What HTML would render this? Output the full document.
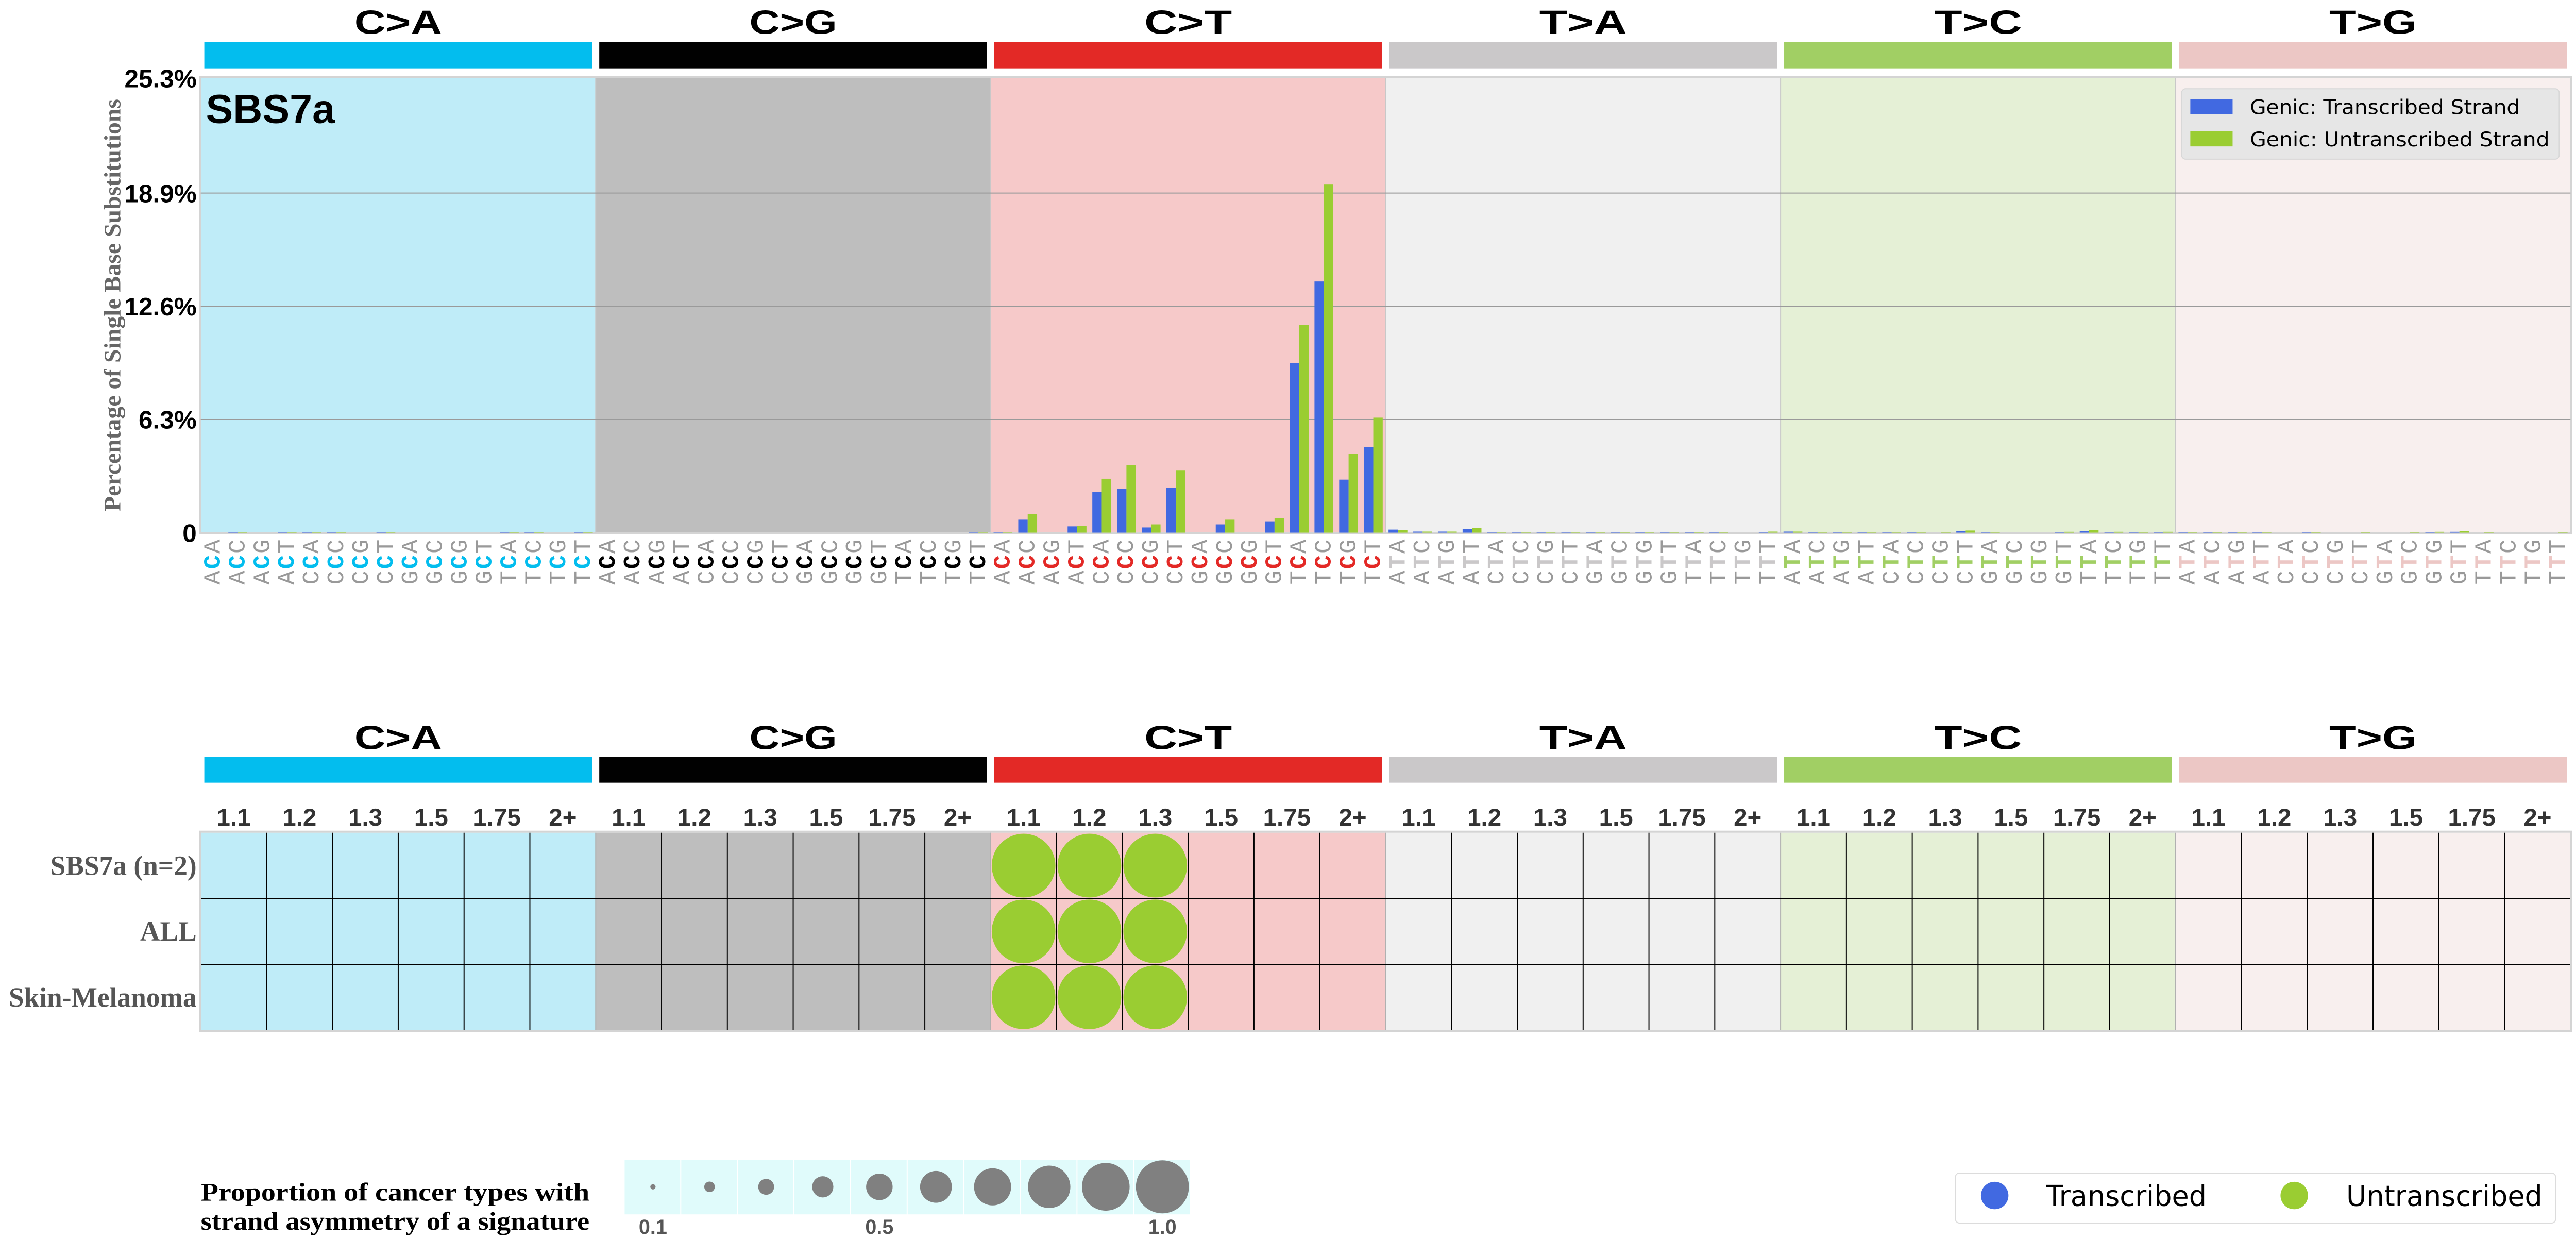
<!DOCTYPE html>
<html><head><meta charset="utf-8"><style>
html,body{margin:0;padding:0;background:#fff;overflow:hidden;width:100%;height:100%}
svg{display:block;width:100vw;height:100vh}
</style></head><body>
<svg xmlns="http://www.w3.org/2000/svg" viewBox="0 0 5056 2435" preserveAspectRatio="none">
<g id="chart" transform="scale(1,0.99)"></g>
</svg>
<script>
const mutTypes = ["C>A","C>G","C>T","T>A","T>C","T>G"];
const contextsC = ["ACA","ACC","ACG","ACT","CCA","CCC","CCG","CCT","GCA","GCC","GCG","GCT","TCA","TCC","TCG","TCT"];
const contextsT = ["ATA","ATC","ATG","ATT","CTA","CTC","CTG","CTT","GTA","GTC","GTG","GTT","TTA","TTC","TTG","TTT"];
const yTicks = [0, 6.3, 12.6, 18.9, 25.3];
const yTickLabels = ["0","6.3%","12.6%","18.9%","25.3%"];
const transcribed = [
 0,0.03,0,0.03,0.03,0.03,0,0.03,0,0,0,0,0.03,0.03,0,0.03,
 0,0,0,0,0,0,0,0,0,0,0,0,0,0,0,0.03,
 0.02,0.75,0,0.35,2.28,2.45,0.29,2.5,0,0.46,0,0.63,9.43,13.98,2.95,4.75,
 0.17,0.06,0.06,0.2,0.02,0.02,0.02,0.02,0.02,0.02,0.02,0.02,0.02,0.02,0,0.02,
 0.06,0.02,0.02,0.02,0.02,0.02,0,0.09,0.02,0,0,0.02,0.09,0.02,0.02,0.02,
 0.02,0.02,0.02,0.02,0,0.02,0,0,0,0,0.02,0.05,0,0,0,0
];
const untranscribed = [
 0,0.03,0,0.03,0.03,0.03,0,0.03,0,0,0,0,0.03,0.03,0,0.03,
 0,0,0,0,0,0,0,0,0,0,0,0,0,0,0,0.03,
 0.02,1.03,0,0.38,3.0,3.75,0.46,3.48,0,0.75,0,0.8,11.55,19.4,4.38,6.4,
 0.14,0.06,0.06,0.26,0.02,0.02,0.02,0.02,0.02,0.02,0.02,0.02,0.02,0.02,0,0.06,
 0.06,0.02,0.02,0.02,0.02,0.02,0.02,0.12,0.02,0,0,0.05,0.14,0.05,0.02,0.05,
 0.02,0.02,0.02,0.02,0,0.02,0,0.02,0,0.02,0.05,0.09,0.02,0,0,0.02
];
const foldLabels = ["1.1","1.2","1.3","1.5","1.75","2+"];
const rowLabels = ["SBS7a (n=2)","ALL","Skin-Melanoma"];
const circleRow = [0,0,0,1,1,1,2,2,2];
const circleCol = [12,13,14,12,13,14,12,13,14];
const circleVal = [1,1,1,1,1,1,1,1,1];
const circleStrand = ["U","U","U","U","U","U","U","U","U"];
const scaleVals = [0.1,0.2,0.3,0.4,0.5,0.6,0.7,0.8,0.9,1.0];
const scaleLabels = {0:"0.1",4:"0.5",9:"1.0"};

const NS="http://www.w3.org/2000/svg";
const svg=document.getElementById('chart');
function mk(tag,attrs,parent,text){const e=document.createElementNS(NS,tag);for(const k in attrs)e.setAttribute(k,attrs[k]);if(text!==undefined)e.textContent=text;(parent||svg).appendChild(e);return e;}
const barCols=["#03bdee","#010101","#e32926","#cac8c9","#a1cf64","#ecc7c5"];
const bgCols=["#bfecf8","#bebebe","#f6c9c9","#f0f0f0","#e5f0d6","#f8efee"];
const midCols=["#03bdee","#000000","#e32926","#cac8c9","#a1cf64","#ecc7c5"];
const L=394, PW=775.2, SLOT=PW/16, TOP=153, BASE=1044, YMAX=25.3, BW=18.5;
const xPanel=p=>L+p*PW;
const y=v=>BASE-(v/YMAX)*(BASE-TOP);
const F='"Liberation Sans", Arial, sans-serif';
const FS='"Liberation Serif", "Times New Roman", serif';
const FD='"DejaVu Sans", sans-serif';

for(let p=0;p<6;p++){
  const t=mk('text',{x:xPanel(p)+PW/2,y:66,'text-anchor':'middle','font-family':F,'font-weight':'bold','font-size':66,fill:'#000',textLength:172,lengthAdjust:'spacingAndGlyphs'},svg,mutTypes[p]);
  
  
  const r=mk('rect',{x:xPanel(p)+7,y:82,width:PW-14,height:52,fill:barCols[p]});
  
  
  const bg=mk('rect',{x:xPanel(p),y:TOP,width:PW,height:BASE-TOP,fill:bgCols[p]});
  
  
}
const frame=mk('rect',{x:L-1,y:TOP-2,width:PW*6+2,height:BASE-TOP+3,fill:'none',stroke:'#d4d4d4','stroke-width':4});


for(let p=1;p<6;p++){mk('line',{x1:xPanel(p),x2:xPanel(p),y1:TOP,y2:BASE,stroke:'#c8c8c8','stroke-width':2});}
yTicks.forEach((v,i)=>{
  if(i>0&&i<yTicks.length-1){const g=mk('line',{x1:L,x2:L+PW*6,y1:y(v),y2:y(v),stroke:'#9a9a9a','stroke-width':2});
  
  }
  const t=mk('text',{x:386,y:y(v)+18,'text-anchor':'end','font-family':F,'font-weight':'bold','font-size':50,fill:'#000'},svg,yTickLabels[i]);
  
  
});
const yt=mk('text',{x:0,y:0,transform:'translate(236,598) rotate(-90)','text-anchor':'middle','font-family':FS,'font-weight':'bold','font-size':46,fill:'#666',textLength:808,lengthAdjust:'spacingAndGlyphs'},svg,'Percentage of Single Base Substitutions');


const sb=mk('text',{x:404,y:241,'font-family':F,'font-weight':'bold','font-size':80,fill:'#000'},svg,'SBS7a');


for(let i=0;i<96;i++){
  const p=Math.floor(i/16), k=i%16;
  const cx=xPanel(p)+(k+0.5)*SLOT;
  if(transcribed[i]>0){const b=mk('rect',{x:cx-BW,y:y(transcribed[i]),width:BW,height:BASE-y(transcribed[i]),fill:'#4169e1'});
    
    }
  if(untranscribed[i]>0){const b=mk('rect',{x:cx,y:y(untranscribed[i]),width:BW,height:BASE-y(untranscribed[i]),fill:'#9acd32'});
    
    }
  const ctx=(p<3?contextsC:contextsT)[k];
  const t=mk('text',{transform:`translate(${cx+13},1146) rotate(-90)`,'font-family':'"Liberation Mono", monospace','font-size':46,fill:'#999','letter-spacing':3});
  
  
  mk('tspan',{},t,ctx[0]);
  mk('tspan',{fill:midCols[p],'font-weight':'bold'},t,ctx[1]);
  mk('tspan',{},t,ctx[2]);
}
const lg=mk('g',{});


mk('rect',{x:4282,y:174,width:741,height:138,rx:8,fill:'#e6e6e6',stroke:'#d8d8d8','stroke-width':2},lg);
mk('rect',{x:4299,y:194,width:83,height:30,fill:'#4169e1'},lg);
mk('rect',{x:4299,y:257,width:83,height:30,fill:'#9acd32'},lg);
mk('text',{x:4416,y:224,'font-family':FD,'font-size':40,fill:'#000',textLength:530,lengthAdjust:'spacingAndGlyphs'},lg,'Genic: Transcribed Strand');
mk('text',{x:4416,y:287,'font-family':FD,'font-size':40,fill:'#000',textLength:588,lengthAdjust:'spacingAndGlyphs'},lg,'Genic: Untranscribed Strand');

const GT=1632, RH=129, CW=PW/6;
for(let p=0;p<6;p++){
  const t=mk('text',{x:xPanel(p)+PW/2,y:1468,'text-anchor':'middle','font-family':F,'font-weight':'bold','font-size':66,fill:'#000',textLength:172,lengthAdjust:'spacingAndGlyphs'},svg,mutTypes[p]);
  
  
  const r=mk('rect',{x:xPanel(p)+7,y:1483,width:PW-14,height:51,fill:barCols[p]});
  
  
  const bg=mk('rect',{x:xPanel(p),y:GT,width:PW,height:RH*3,fill:bgCols[p]});
  
  
  foldLabels.forEach((f,j)=>{
    const ft=mk('text',{x:xPanel(p)+(j+0.5)*CW,y:1618,'text-anchor':'middle','font-family':F,'font-weight':'bold','font-size':48,fill:'#333'},svg,f);
    
    
  });
}
for(let c=1;c<36;c++){if(c%6)mk('line',{x1:L+c*CW,x2:L+c*CW,y1:GT,y2:GT+3*RH,stroke:'#000','stroke-width':2});
  else mk('line',{x1:L+c*CW,x2:L+c*CW,y1:GT,y2:GT+3*RH,stroke:'#b0b0b0','stroke-width':2});}
for(let r=1;r<3;r++)mk('line',{x1:L,x2:L+PW*6,y1:GT+r*RH,y2:GT+r*RH,stroke:'#000','stroke-width':2});
const gf=mk('rect',{x:L-1,y:GT-2,width:PW*6+2,height:RH*3+4,fill:'none',stroke:'#d4d4d4','stroke-width':4});


rowLabels.forEach((lab,r)=>{
  const t=mk('text',{x:386,y:GT+(r+0.5)*RH+18,'text-anchor':'end','font-family':FS,'font-weight':'bold','font-size':54,fill:'#555'},svg,lab);
  
  
});
circleRow.forEach((r,i)=>{
  const c=mk('circle',{cx:L+(circleCol[i]+0.5)*CW,cy:GT+(r+0.5)*RH,r:62.5*circleVal[i],fill:circleStrand[i]==='U'?'#9acd32':'#4169e1'});
  
  
});

const t1=mk('text',{x:394,y:2353,'font-family':FS,'font-weight':'bold','font-size':50,fill:'#000',textLength:763,lengthAdjust:'spacingAndGlyphs'},svg,'Proportion of cancer types with');


const t2=mk('text',{x:394,y:2410,'font-family':FS,'font-weight':'bold','font-size':50,fill:'#000',textLength:763,lengthAdjust:'spacingAndGlyphs'},svg,'strand asymmetry of a signature');


const SW=111.1, SX=1226;
scaleVals.forEach((v,i)=>{
  const r=mk('rect',{x:SX+i*SW,y:2273,width:SW-2,height:107,fill:'#e0fbfb'});
  
  
  const c=mk('circle',{cx:SX+(i+0.5)*SW,cy:2326,r:52*v,fill:'#808080'});
  
  
  if(scaleLabels[i]){const t=mk('text',{x:SX+(i+0.5)*SW,y:2418,'text-anchor':'middle','font-family':F,'font-weight':'bold','font-size':40,fill:'#555'},svg,scaleLabels[i]);
    
    }
});
const sl=mk('g',{});


mk('rect',{x:3838,y:2299,width:1178,height:98,rx:8,fill:'#fff',stroke:'#dcdcdc','stroke-width':2},sl);
mk('circle',{cx:3915,cy:2343,r:27,fill:'#4169e1'},sl);
mk('circle',{cx:4503,cy:2343,r:27,fill:'#9acd32'},sl);
mk('text',{x:4016,y:2363,'font-family':FD,'font-size':56,fill:'#000',textLength:315,lengthAdjust:'spacingAndGlyphs'},sl,'Transcribed');
mk('text',{x:4605,y:2363,'font-family':FD,'font-size':56,fill:'#000',textLength:385,lengthAdjust:'spacingAndGlyphs'},sl,'Untranscribed');
</script>
</body></html>
